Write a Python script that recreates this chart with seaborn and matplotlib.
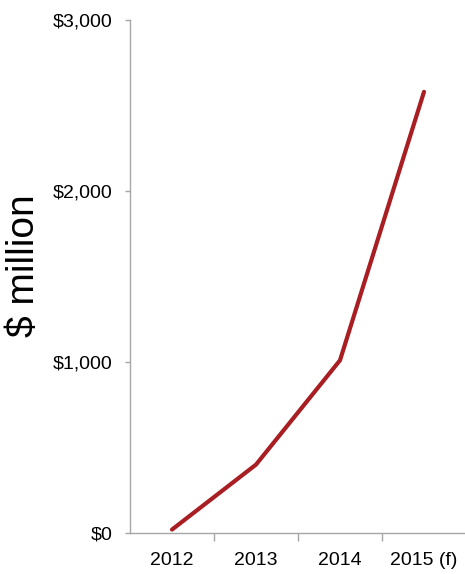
import matplotlib
matplotlib.use("Agg")
import matplotlib.pyplot as plt
from matplotlib import font_manager
from matplotlib.ticker import FixedLocator
import seaborn as sns
import pandas as pd

years = ["2012", "2013", "2014", "2015 (f)"]
values = [20, 400, 1010, 2580]
y_ticks = [0, 1000, 2000, 3000]
y_tick_labels = ["$0", "$1,000", "$2,000", "$3,000"]

sns.set_theme(style="white")

def pick(fam, fallback):
    try:
        font_manager.findfont(font_manager.FontProperties(family=fam), fallback_to_default=False)
        return fam
    except Exception:
        return fallback

narrow = pick("Liberation Sans Narrow", None)
fam = narrow if narrow else "Liberation Sans"
tsize = 17 if narrow else 14
plt.rcParams["font.family"] = [fam, "DejaVu Sans"]

df = pd.DataFrame({"year": years, "value": values})

fig = plt.figure(figsize=(4.65, 5.74), dpi=100)
ax = fig.add_axes([130 / 465, 41 / 574, 336 / 465, 513 / 574])

sns.lineplot(data=df, x="year", y="value", ax=ax, color="#A81E22",
             linewidth=3.0, sort=False)

ax.set_xlim(-0.5, len(years) - 0.5)
ax.set_ylim(0, 3000)

gray = "#A6A6A6"
for side in ["top", "right"]:
    ax.spines[side].set_visible(False)
for side in ["left", "bottom"]:
    ax.spines[side].set_color(gray)
    ax.spines[side].set_linewidth(1.0)

ax.set_yticks(y_ticks)
ax.set_yticklabels(y_tick_labels)
ax.tick_params(axis="y", which="major", direction="out", length=3.6, width=1.0,
               color=gray, pad=9, labelsize=tsize, labelcolor="#000000", left=True)

ax.set_xticks(range(len(years)))
ax.set_xticklabels(years)
ax.tick_params(axis="x", which="major", length=0, pad=14, labelsize=tsize,
               labelcolor="#000000")
ax.xaxis.set_minor_locator(FixedLocator([i + 0.5 for i in range(len(years))]))
ax.tick_params(axis="x", which="minor", direction="out", length=5.5, width=1.0,
               color=gray, bottom=True)

ax.set_xlabel("")
ax.set_ylabel("$ million", fontsize=28, family=["Liberation Sans", "DejaVu Sans"],
              color="#000000", va="center")
ax.yaxis.set_label_coords(-0.315, 0.522)
ax.grid(False)

fig.savefig("out.png", dpi=100)
